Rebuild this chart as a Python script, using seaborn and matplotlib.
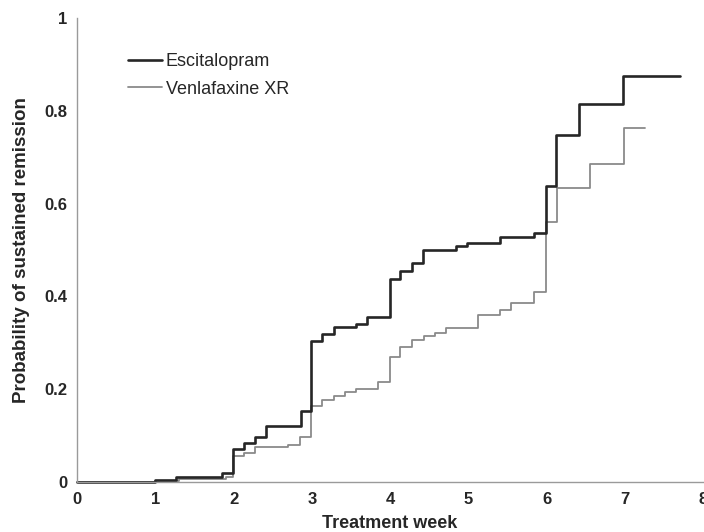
import matplotlib
matplotlib.use("Agg")
import matplotlib.pyplot as plt
import seaborn as sns
import pandas as pd

# Escitalopram step curve (treatment week, probability)
esc_weeks = [0, 1.0, 1.27, 1.85, 1.99, 2.13, 2.27, 2.42, 2.86, 2.99, 3.13, 3.28, 3.57, 3.71,
             4.0, 4.13, 4.28, 4.42, 4.84, 4.98, 5.41, 5.84, 5.99, 6.12, 6.42, 6.98, 7.70]
esc_prob = [0, 0.005, 0.011, 0.02, 0.072, 0.085, 0.098, 0.121, 0.154, 0.305, 0.32, 0.335, 0.34, 0.356,
            0.437, 0.455, 0.472, 0.501, 0.509, 0.516, 0.529, 0.536, 0.638, 0.749, 0.815, 0.875, 0.875]

# Venlafaxine XR step curve
ven_weeks = [0, 1.0, 1.3, 1.9, 1.99, 2.13, 2.27, 2.70, 2.85, 2.99, 3.13, 3.28, 3.42, 3.57, 3.85,
             4.0, 4.13, 4.28, 4.43, 4.57, 4.71, 5.13, 5.41, 5.55, 5.84, 5.99, 6.13, 6.56, 6.99, 7.26]
ven_prob = [0, 0.003, 0.006, 0.01, 0.055, 0.063, 0.075, 0.08, 0.096, 0.164, 0.177, 0.185, 0.194, 0.2, 0.215,
            0.27, 0.29, 0.306, 0.315, 0.322, 0.331, 0.361, 0.371, 0.385, 0.409, 0.561, 0.633, 0.685, 0.764, 0.764]

x_ticks = [0, 1, 2, 3, 4, 5, 6, 7, 8]
y_ticks = [0, 0.2, 0.4, 0.6, 0.8, 1]
y_tick_labels = ["0", "0.2", "0.4", "0.6", "0.8", "1"]

sns.set_style("white")
plt.rcParams['font.family'] = ['Liberation Sans', 'DejaVu Sans']

fig = plt.figure(figsize=(7.04, 5.32), dpi=100)
ax = fig.add_axes([0.1094, 0.094, 0.8892, 0.872])

df_e = pd.DataFrame({"week": esc_weeks, "prob": esc_prob})
df_v = pd.DataFrame({"week": ven_weeks, "prob": ven_prob})

sns.lineplot(data=df_v, x="week", y="prob", ax=ax, drawstyle="steps-post", sort=False,
             estimator=None, color="#8a8a8a", linewidth=1.3, label="Venlafaxine XR", clip_on=False)
sns.lineplot(data=df_e, x="week", y="prob", ax=ax, drawstyle="steps-post", sort=False,
             estimator=None, color="#262626", linewidth=1.9, label="Escitalopram", clip_on=False)

ax.set_xlim(0, 8)
ax.set_ylim(0, 1)
ax.set_xticks(x_ticks)
ax.set_xticklabels([str(t) for t in x_ticks], fontweight="bold", fontsize=12)
ax.set_yticks(y_ticks)
ax.set_yticklabels(y_tick_labels, fontweight="bold", fontsize=12)
ax.set_xlabel("Treatment week", fontweight="bold", fontsize=13, labelpad=6)
ax.set_ylabel("Probability of sustained remission", fontweight="bold", fontsize=13.5, labelpad=10)

for s in ["top", "right"]:
    ax.spines[s].set_visible(False)
for s in ["left", "bottom"]:
    ax.spines[s].set_color("#9a9a9a")
    ax.spines[s].set_linewidth(1.0)
ax.tick_params(axis="both", direction="out", length=4, width=0.8, color="#9a9a9a", pad=3)

handles, labels = ax.get_legend_handles_labels()
order = [labels.index("Escitalopram"), labels.index("Venlafaxine XR")]
ax.legend([handles[i] for i in order], [labels[i] for i in order],
          loc="upper left", bbox_to_anchor=(0.055, 0.96), frameon=False,
          fontsize=13, handlelength=1.9, handletextpad=0.2, labelspacing=0.6)

fig.savefig("out.png", dpi=100)
